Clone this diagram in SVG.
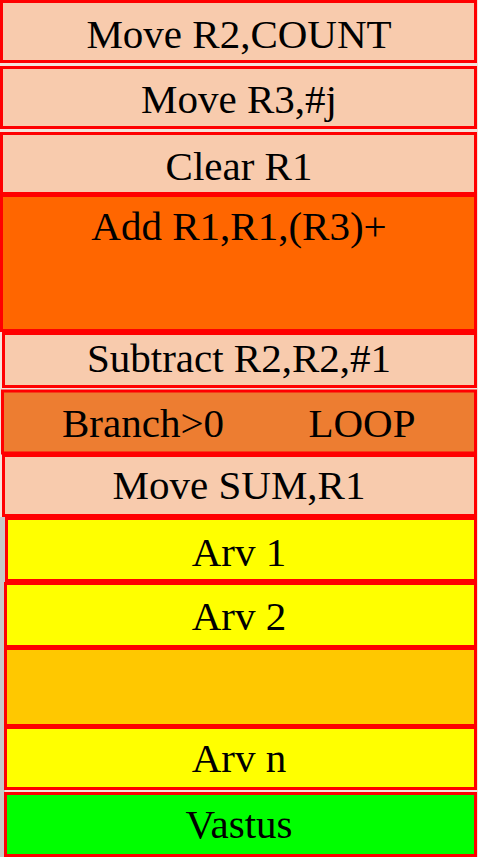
<svg xmlns="http://www.w3.org/2000/svg" width="478" height="857" viewBox="0 0 478 857">
<style>
.b{stroke:#FF0000;stroke-width:3}
.p{fill:#F8CBAD}
.o{fill:#FF6600}
.br{fill:#ED7D31}
.y{fill:#FFFF00}
.g{fill:#FFC800}
.gr{fill:#00FF00}
text{font-family:"Liberation Serif","Times New Roman",serif;font-size:41px;fill:#000;text-anchor:middle}
</style>
<rect x="0" y="0" width="478" height="857" fill="#F3E3DA"/>
<rect x="0" y="517" width="5" height="340" fill="#C8C8C8"/>
<g id="n1"><rect class="b p" x="1.5" y="1.5" width="474" height="60"/><text x="239" y="48">Move R2,COUNT</text></g>
<g id="n2"><rect class="b p" x="1.5" y="67.5" width="474" height="60"/><text x="239" y="113">Move R3,#j</text></g>
<g id="n3"><rect class="b p" x="1.5" y="133.5" width="474" height="60"/><text x="239" y="180">Clear R1</text></g>
<g id="n4"><rect class="b o" x="1.5" y="195.5" width="474" height="135"/><text x="239" y="240">Add R1,R1,(R3)+</text></g>
<g id="n5"><rect class="b p" x="3.5" y="333.5" width="472" height="53"/><text x="239" y="372">Subtract R2,R2,#1</text></g>
<g id="n6"><rect class="b br" x="2.5" y="391" width="473" height="62"/><text x="143" y="437">Branch&gt;0</text><text x="362" y="437">LOOP</text></g>
<g id="n7"><rect class="b p" x="3.5" y="455.5" width="472" height="60"/><text x="239" y="499">Move SUM,R1</text></g>
<g id="n8"><rect class="b y" x="6.5" y="518.5" width="469" height="62"/><text x="239" y="566">Arv 1</text></g>
<g id="n9"><rect class="b y" x="5.5" y="583.5" width="470" height="63"/><text x="239" y="630">Arv 2</text></g>
<g id="n10"><rect class="b g" x="5.5" y="648.5" width="470" height="77"/></g>
<g id="n11"><rect class="b y" x="5.5" y="727.5" width="470" height="61"/><text x="239" y="772">Arv n</text></g>
<g id="n12"><rect class="b gr" x="5.5" y="793.5" width="470" height="62"/><text x="239" y="838">Vastus</text></g>
<g id="connectors"></g>
</svg>
